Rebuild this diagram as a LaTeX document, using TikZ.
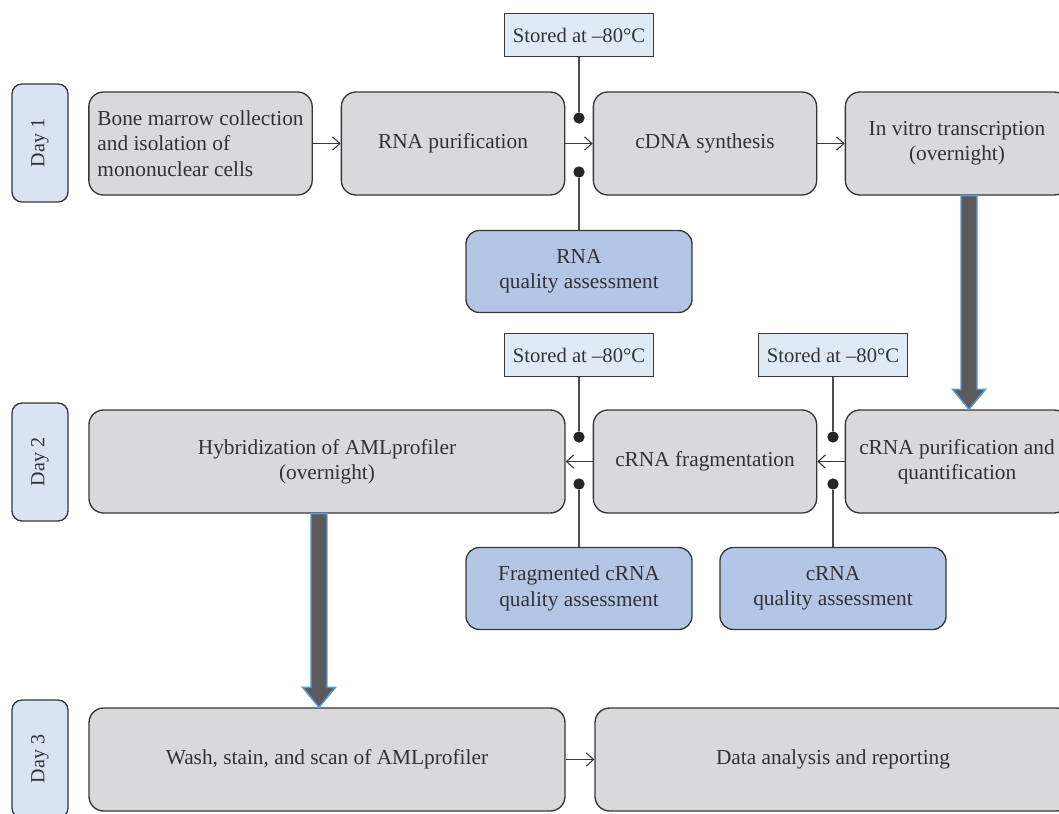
\documentclass[tikz,border=0pt]{standalone}
\usepackage{fontspec}
\setmainfont{Liberation Serif}
\usetikzlibrary{arrows.meta,calc}

\definecolor{boxgray}{RGB}{217,217,219}
\definecolor{qualblue}{RGB}{180,198,230}
\definecolor{storeblue}{RGB}{222,235,247}
\definecolor{dayblue}{RGB}{218,227,243}
\definecolor{edgegray}{RGB}{55,55,57}
\definecolor{textgray}{RGB}{50,50,52}
\definecolor{arrowgray}{RGB}{90,90,92}
\definecolor{arrowedge}{RGB}{91,155,213}

\tikzset{every picture/.style={line width=0.75pt}}
\tikzset{
  stepbox/.style={draw=edgegray, fill=boxgray, rounded corners=11pt, line width=1pt,
    minimum width=167.5pt, minimum height=77.25pt, inner sep=2pt, text=textgray,
    font=\fontsize{16}{19}\selectfont},
  widebox/.style={stepbox, minimum width=357pt},
  qualbox/.style={stepbox, fill=qualblue, minimum width=169.5pt, minimum height=61.5pt, rounded corners=10pt},
  storebox/.style={draw=edgegray, fill=storeblue, line width=1pt, minimum width=111.75pt,
    minimum height=32.25pt, inner sep=2pt, text=textgray, font=\fontsize{15.5}{18}\selectfont},
  daybox/.style={draw=edgegray, fill=dayblue, rounded corners=7.5pt, line width=1pt,
    minimum width=88.5pt, minimum height=42pt, rotate=90, text=textgray,
    font=\fontsize{15}{18}\selectfont},
  dotpt/.style={circle, fill=black!85, inner sep=0pt, minimum size=8.5pt},
  flowarrow/.style={draw=edgegray, line width=0.8pt, -{Straight Barb[length=5.5pt,width=10pt]}},
  tieline/.style={draw=edgegray!90, line width=1pt},
  bigarrow/.style={fill=arrowgray, draw=arrowedge, line width=1.1pt, line join=miter}
}
% thick down arrow: start point, end point (same x)
\newcommand{\bigdown}[2]{%
  \draw[bigarrow] ($(#1)+(-8,0)$) -- ($(#1)+(8,0)$) -- ($(#2)+(8,-20)$) -- ($(#2)+(16.5,-20)$)
    -- (#2) -- ($(#2)+(-16.5,-20)$) -- ($(#2)+(-8,-20)$) -- cycle;}

\begin{document}
\begin{tikzpicture}[x=0.75pt,y=0.75pt,yscale=-1,xscale=1]
	\useasboundingbox (0,0) rectangle (1059,813);
	
	%Day labels
	\node [daybox] (day1) at (40,143) {Day 1};
	\node [daybox] (day2) at (40,462) {Day 2};
	\node [daybox] (day3) at (40,759) {Day 3};
	
	%Row 1
	\node [stepbox, align=left] (bone) at (200.5,143.5) {Bone marrow collection\\and isolation of\\mononuclear cells};
	\node [stepbox] (rnapur) at (453,143.5) {RNA purification};
	\node [stepbox] (cdna) at (705,143.5) {cDNA synthesis};
	\node [stepbox, align=center] (ivt) at (957,143.5) {In vitro transcription\\(overnight)};
	\node [storebox] (store1) at (579,35) {Stored at –80°C};
	\node [qualbox, align=center] (rnaqual) at (579,271.5) {RNA\\quality assessment};
	\node [dotpt] (d1a) at (579,118) {};
	\node [dotpt] (d1b) at (579,172) {};
	
	%Row 2
	\node [widebox, align=center] (hyb) at (327,461.5) {Hybridization of AMLprofiler\\(overnight)};
	\node [stepbox] (frag) at (705,461.5) {cRNA fragmentation};
	\node [stepbox, align=center] (crnapur) at (957,461.5) {cRNA purification and\\quantification};
	\node [storebox] (store2) at (579,355) {Stored at –80°C};
	\node [storebox] (store3) at (833,355) {Stored at –80°C};
	\node [qualbox, align=center] (fragqual) at (579,588.5) {Fragmented cRNA\\quality assessment};
	\node [qualbox, align=center] (crnaqual) at (833,588.5) {cRNA\\quality assessment};
	\node [dotpt] (d2a) at (579,437) {};
	\node [dotpt] (d2b) at (579,484) {};
	\node [dotpt] (d3a) at (833,437) {};
	\node [dotpt] (d3b) at (833,484) {};
	
	%Row 3
	\node [widebox] (wash) at (327,759.5) {Wash, stain, and scan of AMLprofiler};
	\node [widebox] (data) at (833,759.5) {Data analysis and reporting};
	
	%Flow arrows
	\draw [flowarrow] (bone) -- (rnapur);
	\draw [flowarrow] (rnapur) -- (cdna);
	\draw [flowarrow] (cdna) -- (ivt);
	\draw [flowarrow] (crnapur) -- (frag);
	\draw [flowarrow] (frag) -- (hyb);
	\draw [flowarrow] (wash) -- (data);
	
	%Storage and quality ties
	\draw [tieline] (store1) -- (d1a);
	\draw [tieline] (d1b) -- (rnaqual);
	\draw [tieline] (store2) -- (d2a);
	\draw [tieline] (d2b) -- (fragqual);
	\draw [tieline] (store3) -- (d3a);
	\draw [tieline] (d3b) -- (crnaqual);
	
	%Thick day arrows
	\coordinate (t1) at ($(ivt.south)+(12,0)$);
	\coordinate (e1) at (t1 |- crnapur.north);
	\bigdown{t1}{e1}
	\coordinate (t2) at ($(hyb.south)+(-8,0)$);
	\coordinate (e2) at (t2 |- wash.north);
	\bigdown{t2}{e2}
	
\end{tikzpicture}
\end{document}
